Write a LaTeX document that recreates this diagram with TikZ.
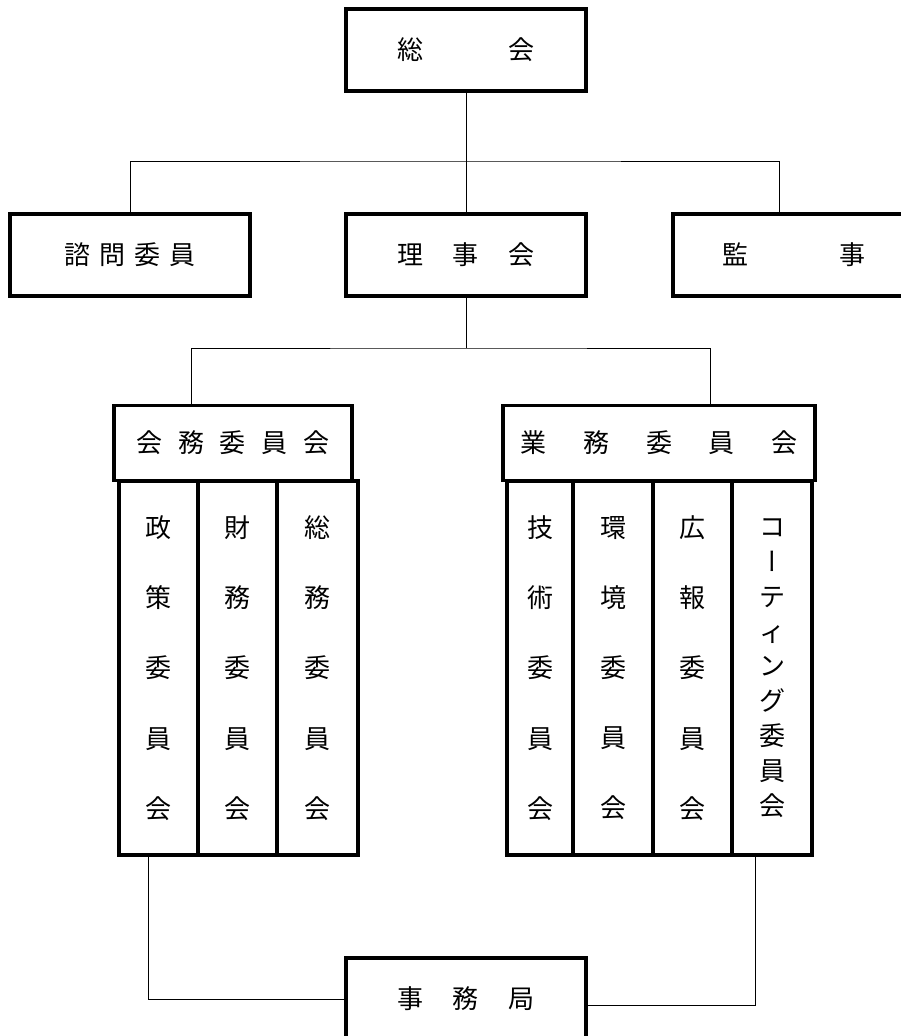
\documentclass[tikz,border=0pt]{standalone}
\usepackage{fontspec}
\newfontfamily\jp{Noto Sans CJK JP}
\newfontfamily\jpv[RawFeature=+vert]{Noto Sans CJK JP}
\begin{document}
\begin{tikzpicture}[x=1pt,y=-1pt,
  box/.style={draw, line width=3.5pt, inner sep=0pt, outer sep=0pt, fill=white,
    font=\jp\fontsize{26}{30}\selectfont},
  col/.style={box, align=center, font=\jp\fontsize{26}{70.2}\selectfont},
  colk/.style={box, align=center, font=\jp\fontsize{26}{34.8}\selectfont},
  link/.style={line width=0.9pt}]
\useasboundingbox (0,0) rectangle (901,1036);
% top level
\node[box, minimum width=240pt, minimum height=82pt] (sokai) at (466,50) {総\hspace{85pt}会};
\node[box, minimum width=240pt, minimum height=82pt] (riji) at (466,255) {理\hspace{29.5pt}事\hspace{29.5pt}会};
\node[box, minimum width=240pt, minimum height=82pt] (shimon) at (130,255) {諮\hspace{9pt}問\hspace{9pt}委\hspace{9pt}員};
\node[box, minimum width=242pt, minimum height=82pt] (kanji) at (794,255) {監\hspace{91pt}事};
\coordinate (j1) at (466,161);
\coordinate (kanjiIn) at (779,214);
\draw[link] (sokai.south) -- (riji.north);
\draw[link] (shimon.north) |- (j1) -| (kanjiIn);
% committees
\node[box, minimum width=238pt, minimum height=75pt] (kaimu) at (233,443) {会\hspace{15.7pt}務\hspace{15.7pt}委\hspace{15.7pt}員\hspace{15.7pt}会};
\node[box, minimum width=312pt, minimum height=75pt] (gyomu) at (659,443) {業\hspace{36.7pt}務\hspace{36.7pt}委\hspace{36.7pt}員\hspace{36.7pt}会};
\coordinate (j2) at (466,348);
\coordinate (kaimuIn) at (191,405.5);
\coordinate (gyomuIn) at (710,405.5);
\draw[link] (riji.south) -- (j2);
\draw[link] (kaimuIn) |- (j2) -| (gyomuIn);
% left columns
\node[col, minimum width=79pt, minimum height=374pt] (seisaku) at (158.5,668) {政\\策\\委\\員\\会};
\node[col, minimum width=79pt, minimum height=374pt] (zaimu) at (237.5,668) {財\\務\\委\\員\\会};
\node[col, minimum width=81pt, minimum height=374pt] (somu) at (317.5,668) {総\\務\\委\\員\\会};
% right columns
\node[col, minimum width=66pt, minimum height=374pt] (gijutsu) at (540,668) {技\\術\\委\\員\\会};
\node[col, minimum width=80pt, minimum height=374pt] (kankyo) at (613,668) {環\\境\\委\\員\\会};
\node[col, minimum width=79pt, minimum height=374pt] (koho) at (692.5,668) {広\\報\\委\\員\\会};
\node[colk, minimum width=80pt, minimum height=374pt] (coating) at (772,668) {コ\\{\jpv ー}\\テ\\ィ\\ン\\グ\\委\\員\\会};
% secretariat
\node[box, minimum width=240pt, minimum height=82pt] (jimu) at (466,999) {事\hspace{30pt}務\hspace{30pt}局};
\coordinate (lb) at (148,855);
\coordinate (rb) at (755,855);
\draw[link] (lb) |- (jimu.west);
\draw[link] (rb) |- ([yshift=-6pt]jimu.east);
\end{tikzpicture}
\end{document}
